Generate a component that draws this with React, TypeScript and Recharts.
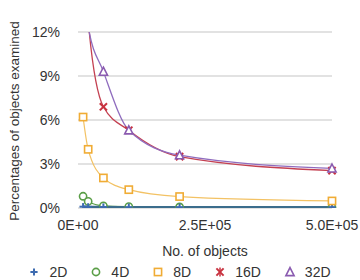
import React from 'react';
import { LineChart, Line, XAxis, YAxis, CartesianGrid, Legend } from 'recharts';

// number of objects (x)
const objects = [10000, 20000, 50000, 100000, 200000, 500000];

// percentage of objects examined, per dimensionality
const d2 = [0.09, 0.08, 0.07, 0.06, 0.06, 0.06];
const d4 = [0.8, 0.45, 0.15, 0.1, 0.07, 0.05];
const d8 = [6.2, 4.0, 2.05, 1.25, 0.78, 0.48];
const d16 = [22, 12.8, 6.9, 5.3, 3.5, 2.55];
const d32 = [28, 12.4, 9.3, 5.3, 3.6, 2.7];

const xTicks = [0, 250000, 500000];
const xTickLabels = ['0E+00', '2.5E+05', '5.0E+05'];
const yTicks = [0, 3, 6, 9, 12];
const yTickLabels = ['0%', '3%', '6%', '9%', '12%'];

const data = objects.map((n, i) => ({
  n,
  d2: d2[i],
  d4: d4[i],
  d8: d8[i],
  d16: d16[i],
  d32: d32[i],
}));

const FONT = '"Liberation Sans", Arial, sans-serif';
const TEXT = '#333';

type Shape = 'plus' | 'circle' | 'square' | 'star' | 'triangle';

const series: { key: string; name: string; color: string; line: string; width: number; shape: Shape }[] = [
  { key: 'd2', name: '2D', color: '#3d6bb0', line: '#3c6d8c', width: 2.4, shape: 'plus' },
  { key: 'd4', name: '4D', color: '#5a9e47', line: '#5a9e47', width: 1.2, shape: 'circle' },
  { key: 'd8', name: '8D', color: '#f0ac35', line: '#f3c264', width: 1.2, shape: 'square' },
  { key: 'd16', name: '16D', color: '#c8323f', line: '#c44152', width: 1.3, shape: 'star' },
  { key: 'd32', name: '32D', color: '#8a5bb0', line: '#8f6cbe', width: 1.3, shape: 'triangle' },
];

// draw order: 4D under 2D so the thick 2D line stays visible at the bottom
const drawOrder = ['d4', 'd2', 'd8', 'd16', 'd32'];

const Marker = ({ cx, cy, color, shape, r = 3.6 }: { cx: number; cy: number; color: string; shape: Shape; r?: number }) => {
  const sw = 1.6;
  if (shape === 'plus')
    return (
      <g stroke={color} strokeWidth={2}>
        <line x1={cx - r} y1={cy} x2={cx + r} y2={cy} />
        <line x1={cx} y1={cy - r} x2={cx} y2={cy + r} />
      </g>
    );
  if (shape === 'circle') return <circle cx={cx} cy={cy} r={r} fill="#fff" stroke={color} strokeWidth={sw} />;
  if (shape === 'square')
    return <rect x={cx - r} y={cy - r} width={r * 2} height={r * 2} fill="#fff" stroke={color} strokeWidth={sw} />;
  if (shape === 'star')
    return (
      <g stroke={color} strokeWidth={2}>
        <line x1={cx - r} y1={cy - r} x2={cx + r} y2={cy + r} />
        <line x1={cx - r} y1={cy + r} x2={cx + r} y2={cy - r} />
      </g>
    );
  return (
    <polygon
      points={`${cx},${cy - r - 0.8} ${cx + r + 0.5},${cy + r} ${cx - r - 0.5},${cy + r}`}
      fill="#fff"
      stroke={color}
      strokeWidth={sw}
    />
  );
};

const LegendContent = () => (
  <div style={{ display: 'flex', justifyContent: 'center', alignItems: 'center', height: 16, fontFamily: FONT, fontSize: 14, color: TEXT }}>
    {series.map((s, i) => (
      <div key={s.key} style={{ display: 'flex', alignItems: 'center', marginLeft: i === 0 ? 0 : 24 }}>
        <svg width={10} height={10} style={{ marginRight: 10, overflow: 'visible' }}>
          <Marker cx={5} cy={5} color={s.color} shape={s.shape} />
          {s.shape === 'star' && <line x1={5} y1={0.5} x2={5} y2={9.5} stroke={s.color} strokeWidth={1.5} />}
        </svg>
        <span>{s.name}</span>
      </div>
    ))}
  </div>
);

export default function App() {
  return (
    <div style={{ position: 'absolute', left: 0, top: 0, width: 360, height: 280, background: '#fff' }}>
      <LineChart width={360} height={280} data={data} margin={{ top: 32, right: 28, left: 6, bottom: 0 }}>
        <CartesianGrid vertical={false} stroke="#d9d9d9" strokeWidth={1.5} />
        <XAxis
          dataKey="n"
          type="number"
          domain={[0, 500000]}
          ticks={xTicks}
          tickFormatter={(v: number) => xTickLabels[xTicks.indexOf(v)]}
          axisLine={false}
          tickLine={false}
          tickSize={6}
          tickMargin={6}
          height={56}
          tick={{ fill: TEXT, fontSize: 14, fontFamily: FONT }}
          label={{ value: 'No. of objects', position: 'insideBottom', offset: 8, fill: TEXT, fontSize: 14, fontFamily: FONT }}
        />
        <YAxis
          type="number"
          domain={[0, 12]}
          allowDataOverflow
          ticks={yTicks}
          tickFormatter={(v: number) => yTickLabels[yTicks.indexOf(v)]}
          axisLine={false}
          tickLine={false}
          tickSize={6}
          tickMargin={12}
          width={72}
          tick={{ fill: TEXT, fontSize: 14, fontFamily: FONT }}
          label={{
            value: 'Percentages of objects examined',
            angle: -90,
            position: 'insideLeft',
            offset: 3,
            dx: 5,
            dy: 1,
            fill: TEXT,
            fontSize: 13.5,
            fontFamily: FONT,
            style: { textAnchor: 'middle' },
          }}
        />
        <Legend verticalAlign="bottom" height={16} wrapperStyle={{ left: 0, bottom: 0, width: 360 }} content={<LegendContent />} />
        {drawOrder.map((k) => {
          const s = series.find((x) => x.key === k)!;
          return (
            <Line
              key={s.key}
              dataKey={s.key}
              name={s.name}
              type="monotone"
              stroke={s.line}
              strokeWidth={s.width}
              isAnimationActive={false}
              dot={(p: any) => <Marker key={`${s.key}-${p.index}`} cx={p.cx} cy={p.cy} color={s.color} shape={s.shape} />}
              activeDot={false}
            />
          );
        })}
      </LineChart>
    </div>
  );
}
